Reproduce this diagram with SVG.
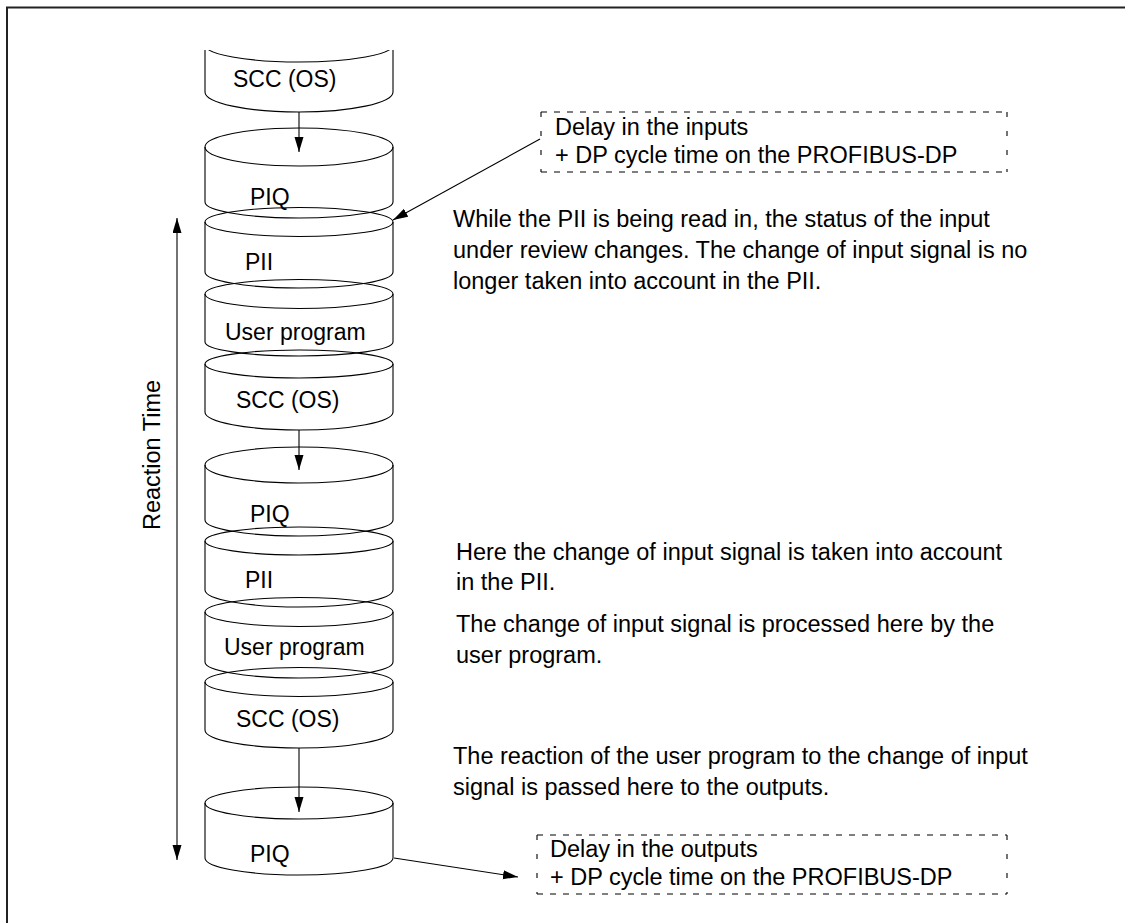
<svg xmlns="http://www.w3.org/2000/svg" width="1125" height="923" viewBox="0 0 1125 923">
<style>
.cyl{fill:none;stroke:#000;stroke-width:1.1}
.lbl{font-family:"Liberation Sans",Arial,sans-serif;font-size:23px;fill:#000}
.txt{font-family:"Liberation Sans",Arial,sans-serif;font-size:23.5px;fill:#000}
.con{fill:none;stroke:#000;stroke-width:1.1}
.dh{stroke:#000;stroke-width:1.1;stroke-dasharray:6,7}
.dv{stroke:#000;stroke-width:1.1;stroke-dasharray:5,14}
</style>
<defs>
<marker id="ah" markerUnits="userSpaceOnUse" markerWidth="16" markerHeight="10" refX="15" refY="4.5" orient="auto-start-reverse"><path d="M0,0 L15,4.5 L0,9 z" fill="#000"/></marker>
<clipPath id="clipTop"><rect x="0" y="50" width="1125" height="100"/></clipPath>
</defs>
<rect width="1125" height="923" fill="#fff"/>
<path d="M7,923 V7.5 H1125" fill="none" stroke="#222" stroke-width="2"/>

<g id="scc0" clip-path="url(#clipTop)">
<ellipse class="cyl" cx="299" cy="45" rx="94" ry="17"/>
<path class="cyl" d="M205,45 V92 A94,20 0 0 0 393,92 V45"/>
<text class="lbl" x="233" y="87">SCC (OS)</text>
</g>
<g id="piq1">
<ellipse class="cyl" cx="299" cy="147" rx="94" ry="19"/>
<path class="cyl" d="M205,147 V202 A94,16 0 0 0 393,202 V147"/>
<text class="lbl" x="250" y="205">PIQ</text>
</g>
<g id="pii1">
<ellipse class="cyl" cx="299" cy="222" rx="94" ry="14.5"/>
<path class="cyl" d="M205,222 V272 A94,16 0 0 0 393,272 V222"/>
<text class="lbl" x="245" y="270">PII</text>
</g>
<g id="up1">
<ellipse class="cyl" cx="299" cy="294" rx="94" ry="14.5"/>
<path class="cyl" d="M205,294 V342 A94,14 0 0 0 393,342 V294"/>
<text class="lbl" x="225" y="340">User program</text>
</g>
<g id="scc1">
<ellipse class="cyl" cx="299" cy="364" rx="94" ry="14"/>
<path class="cyl" d="M205,364 V412 A94,18 0 0 0 393,412 V364"/>
<text class="lbl" x="236" y="408">SCC (OS)</text>
</g>
<g id="piq2">
<ellipse class="cyl" cx="299" cy="465" rx="94" ry="18"/>
<path class="cyl" d="M205,465 V520 A94,16 0 0 0 393,520 V465"/>
<text class="lbl" x="250" y="522">PIQ</text>
</g>
<g id="pii2">
<ellipse class="cyl" cx="299" cy="541" rx="94" ry="14"/>
<path class="cyl" d="M205,541 V590 A94,17 0 0 0 393,590 V541"/>
<text class="lbl" x="245" y="588">PII</text>
</g>
<g id="up2">
<ellipse class="cyl" cx="299" cy="612" rx="94" ry="14.5"/>
<path class="cyl" d="M205,612 V662 A94,16 0 0 0 393,662 V612"/>
<text class="lbl" x="224" y="655">User program</text>
</g>
<g id="scc2">
<ellipse class="cyl" cx="299" cy="682" rx="94" ry="14.5"/>
<path class="cyl" d="M205,682 V730 A94,18 0 0 0 393,730 V682"/>
<text class="lbl" x="236" y="727">SCC (OS)</text>
</g>
<g id="piq3">
<ellipse class="cyl" cx="299" cy="803" rx="94" ry="16"/>
<path class="cyl" d="M205,803 V858 A94,17 0 0 0 393,858 V803"/>
<text class="lbl" x="250" y="862">PIQ</text>
</g>

<g id="box-inputs">
<line class="dh" x1="541" y1="112" x2="1007" y2="112"/>
<line class="dh" x1="541" y1="172" x2="1007" y2="172"/>
<line class="dv" x1="541" y1="112" x2="541" y2="172"/>
<line class="dv" x1="1007" y1="112" x2="1007" y2="172"/>
<text class="txt" x="555" y="135">Delay in the inputs</text>
<text class="txt" x="555" y="163">+ DP cycle time on the PROFIBUS-DP</text>
</g>
<g id="box-outputs">
<line class="dh" x1="537" y1="835" x2="1007" y2="835"/>
<line class="dh" x1="537" y1="894" x2="1007" y2="894"/>
<line class="dv" x1="537" y1="835" x2="537" y2="894"/>
<line class="dv" x1="1007" y1="835" x2="1007" y2="894"/>
<text class="txt" x="550" y="857">Delay in the outputs</text>
<text class="txt" x="550" y="885">+ DP cycle time on the PROFIBUS-DP</text>
</g>

<g id="notes">
<text class="txt" x="453" y="227">While the PII is being read in, the status of the input</text>
<text class="txt" x="453" y="258">under review changes. The change of input signal is no</text>
<text class="txt" x="453" y="289">longer taken into account in the PII.</text>
<text class="txt" x="456" y="560">Here the change of input signal is taken into account</text>
<text class="txt" x="456" y="590">in the PII.</text>
<text class="txt" x="456" y="632">The change of input signal is processed here by the</text>
<text class="txt" x="456" y="663">user program.</text>
<text class="txt" x="453" y="764">The reaction of the user program to the change of input</text>
<text class="txt" x="453" y="795">signal is passed here to the outputs.</text>
<text class="txt" transform="translate(160,455) rotate(-90)" text-anchor="middle">Reaction Time</text>
</g>

<g id="connectors">
<line class="con" x1="299" y1="112" x2="299" y2="152" marker-end="url(#ah)"/>
<line class="con" x1="299" y1="430" x2="299" y2="470" marker-end="url(#ah)"/>
<line class="con" x1="299" y1="748" x2="299" y2="812" marker-end="url(#ah)"/>
<line class="con" x1="540" y1="139" x2="393" y2="220" marker-end="url(#ah)"/>
<line class="con" x1="394" y1="858" x2="518" y2="877" marker-end="url(#ah)"/>
<line class="con" x1="177" y1="218" x2="177" y2="860" marker-start="url(#ah)" marker-end="url(#ah)"/>
</g>
</svg>
